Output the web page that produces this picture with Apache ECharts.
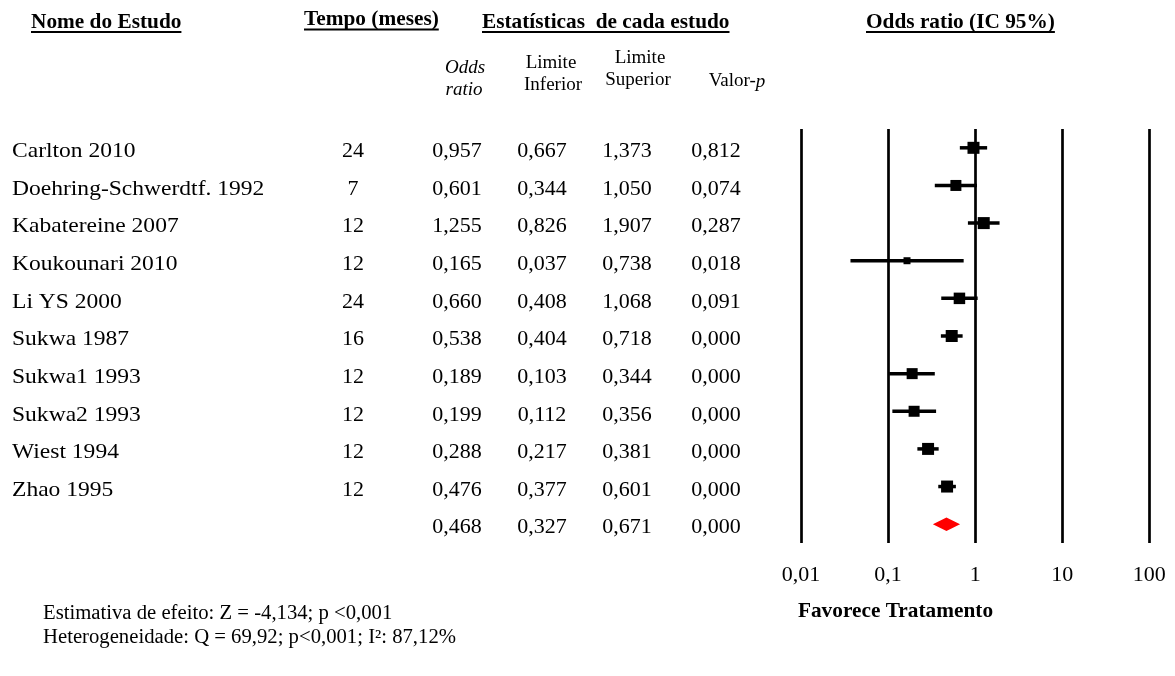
<!DOCTYPE html>
<html><head><meta charset="utf-8">
<script src="https://cdn.jsdelivr.net/npm/echarts@6/dist/echarts.min.js"></script>
<style>html,body{margin:0;padding:0;background:#fff}#c{width:1175px;height:676px}</style>
</head><body><div id="c"></div>
<script>
// ---- data ----
const studies = ['Carlton 2010','Doehring-Schwerdtf. 1992','Kabatereine 2007','Koukounari 2010','Li YS 2000','Sukwa 1987','Sukwa1 1993','Sukwa2 1993','Wiest 1994','Zhao 1995'];
const tempo = [24, 7, 12, 12, 24, 16, 12, 12, 12, 12];
const oddsRatio = [0.957, 0.601, 1.255, 0.165, 0.660, 0.538, 0.189, 0.199, 0.288, 0.476];
const lowerLimit = [0.667, 0.344, 0.826, 0.037, 0.408, 0.404, 0.103, 0.112, 0.217, 0.377];
const upperLimit = [1.373, 1.050, 1.907, 0.738, 1.068, 0.718, 0.344, 0.356, 0.381, 0.601];
const pValue = [0.812, 0.074, 0.287, 0.018, 0.091, 0.000, 0.000, 0.000, 0.000, 0.000];
const studyWeight = [12, 11, 12, 7, 11.5, 12, 11, 11, 12, 12]; // box size, px
const pooled = [0.468, 0.327, 0.671, 0.000]; // OR, lower, upper, p
const tickLabels = ['0,01', '0,1', '1', '10', '100'];
const footer1 = 'Estimativa de efeito: Z = -4,134; p <0,001';
const footer2 = 'Heterogeneidade: Q = 69,92; p<0,001; I²: 87,12%';

// ---- helpers ----
const SERIF = "'Liberation Serif','Times New Roman',serif";
const fmt = v => v.toFixed(3).replace('.', ',');
const ctx = document.createElement('canvas').getContext('2d');
function tw(t, font) { ctx.font = font; return ctx.measureText(t).width; }
function txt(x, y, text, o) {
  o = o || {};
  const size = o.size || 20, weight = o.weight || 'normal', style = o.style || 'normal';
  const align = o.align || 'left';
  const el = {
    type: 'text', x: x, y: y, silent: true,
    style: {
      text: text, fill: '#000', fontSize: size, fontFamily: SERIF, fontWeight: weight, fontStyle: style,
      align: align, verticalAlign: 'middle', textAlign: align, textVerticalAlign: 'middle',
      rich: o.rich
    }
  };
  if (o.sx) el.scaleX = o.sx;
  return el;
}
function header(x, y, text) {
  const font = 'bold 21px ' + SERIF;
  const w = tw(text, font) * 1.015;
  return [
    txt(x, y, text, { size: 21, weight: 'bold', sx: 1.015 }),
    { type: 'line', silent: true, shape: { x1: x, y1: y + 9.5, x2: x + w, y2: y + 9.5 }, style: { stroke: '#000', lineWidth: 1.8 } }
  ];
}

const N = studies.length;
const ROWS = N + 1;
const tableData = [];
for (let i = 0; i < ROWS; i++) tableData.push([0, i]);
const forestData = studies.map((s, i) => [oddsRatio[i], lowerLimit[i], upperLimit[i], i, studyWeight[i]]);

const graphics = [].concat(
  header(31, 22.5, 'Nome do Estudo'),
  header(304, 20, 'Tempo (meses)'),
  header(482, 22.5, 'Estatísticas  de cada estudo'),
  header(866, 22.5, 'Odds ratio (IC 95%)'),
  [
    txt(465, 67.5, 'Odds', { size: 19, style: 'italic', align: 'center' }),
    txt(464, 89.5, 'ratio', { size: 19, style: 'italic', align: 'center' }),
    txt(551, 63.5, 'Limite', { size: 19, align: 'center' }),
    txt(553, 85.5, 'Inferior', { size: 19, align: 'center' }),
    txt(640, 58.5, 'Limite', { size: 19, align: 'center' }),
    txt(638, 80.5, 'Superior', { size: 19, align: 'center' }),
    txt(737, 81.5, '{a|Valor-}{b|p}', { size: 19, align: 'center', rich: {
      a: { fontSize: 19, fontFamily: SERIF, fill: '#000', color: '#000' },
      b: { fontSize: 19, fontFamily: SERIF, fontStyle: 'italic', fill: '#000', color: '#000' } } }),
    txt(43, 614, footer1, { size: 20, sx: 1.035 }),
    txt(43, 637.5, footer2, { size: 20, sx: 1.035 }),
    txt(895.5, 611.5, 'Favorece Tratamento', { size: 21, weight: 'bold', align: 'center', sx: 1.015 })
  ]
);

const chart = echarts.init(document.getElementById('c'), null, { renderer: 'canvas' });
chart.setOption({
  animation: false,
  backgroundColor: '#fff',
  grid: [
    { left: 801, right: 25.7, top: 129, bottom: 133 },
    { left: 0, right: 0, top: 129, bottom: 133 }
  ],
  xAxis: [
    {
      type: 'log', logBase: 10, min: 0.01, max: 100, gridIndex: 0,
      axisLine: { show: false }, axisTick: { show: false },
      splitLine: { show: true, lineStyle: { color: '#000', width: 2.7 } },
      axisLabel: {
        margin: 21, color: '#000', fontSize: 22, fontFamily: SERIF,
        formatter: v => tickLabels[Math.round(Math.log10(v)) + 2]
      }
    },
    { type: 'value', min: 0, max: 1175, gridIndex: 1, show: false }
  ],
  yAxis: [
    { type: 'value', min: -0.5, max: ROWS - 0.5, inverse: true, gridIndex: 0, show: false },
    { type: 'value', min: -0.5, max: ROWS - 0.5, inverse: true, gridIndex: 1, show: false }
  ],
  graphic: graphics,
  series: [
    {
      type: 'custom', xAxisIndex: 1, yAxisIndex: 1, silent: true,
      data: tableData,
      renderItem: (params, api) => {
        const i = api.value(1);
        const y = api.coord([0, i])[1] + 3.5;
        const X = v => api.coord([v, i])[0];
        const isPooled = i >= N;
        const vals = isPooled ? pooled : [oddsRatio[i], lowerLimit[i], upperLimit[i], pValue[i]];
        const ch = [
          txt(X(457), y, fmt(vals[0]), { size: 22, align: 'center' }),
          txt(X(542), y, fmt(vals[1]), { size: 22, align: 'center' }),
          txt(X(627), y, fmt(vals[2]), { size: 22, align: 'center' }),
          txt(X(716), y, fmt(vals[3]), { size: 22, align: 'center' })
        ];
        if (!isPooled) {
          ch.push(txt(X(12), y, studies[i], { size: 22, sx: 1.07 }));
          ch.push(txt(X(353), y, String(tempo[i]), { size: 22, align: 'center' }));
        }
        return { type: 'group', children: ch };
      }
    },
    {
      type: 'custom', xAxisIndex: 0, yAxisIndex: 0, silent: true,
      data: forestData,
      encode: { x: [0, 1, 2], y: 3 },
      renderItem: (params, api) => {
        const row = api.value(3), s = api.value(4);
        const pL = api.coord([api.value(1), row]);
        const pH = api.coord([api.value(2), row]);
        const pC = api.coord([api.value(0), row]);
        return { type: 'group', children: [
          { type: 'line', shape: { x1: pL[0], y1: pL[1], x2: pH[0], y2: pH[1] }, style: { stroke: '#000', lineWidth: 3.5 } },
          { type: 'rect', shape: { x: pC[0] - s / 2, y: pC[1] - s / 2, width: s, height: s }, style: { fill: '#000' } }
        ] };
      }
    },
    {
      type: 'custom', xAxisIndex: 0, yAxisIndex: 0, silent: true,
      data: [[pooled[0], pooled[1], pooled[2], N]],
      encode: { x: [0, 1, 2], y: 3 },
      renderItem: (params, api) => {
        const row = api.value(3), h = 6.8;
        const pL = api.coord([api.value(1), row]);
        const pH = api.coord([api.value(2), row]);
        const pC = api.coord([api.value(0), row]);
        return { type: 'polygon', shape: { points: [[pL[0], pC[1]], [pC[0], pC[1] - h], [pH[0], pC[1]], [pC[0], pC[1] + h]] }, style: { fill: '#ff0000' } };
      }
    }
  ]
});
</script>
</body></html>
